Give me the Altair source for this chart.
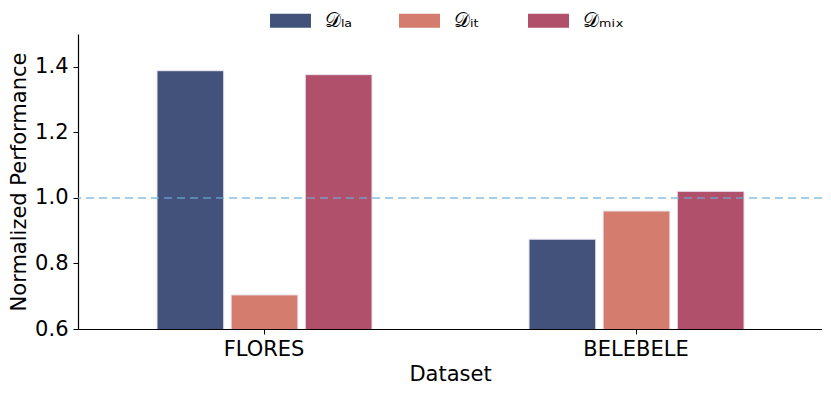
import altair as alt
import pandas as pd

datasets = ["FLORES", "BELEBELE"]
series = ["𝒟ₗₐ", "𝒟ᵢₜ", "𝒟ₘᵢₓ"]
values_la = [1.388, 0.874]
values_it = [0.704, 0.960]
values_mix = [1.376, 1.020]
colors = ["#43527A", "#D47C6D", "#B0506B"]
baseline = [1.0]

rows = []
for s, vals in zip(series, [values_la, values_it, values_mix]):
    for d, v in zip(datasets, vals):
        rows.append({"Dataset": d, "Series": s, "Value": v})
df = pd.DataFrame(rows)
base_df = pd.DataFrame({"y": baseline})

FONT = "DejaVu Sans"
FS = 21

bars = alt.Chart(df).mark_bar(stroke="#e8e4f0", strokeWidth=1, clip=True).encode(
    x=alt.X("Dataset:N", sort=datasets,
            scale=alt.Scale(paddingInner=0, paddingOuter=0),
            axis=alt.Axis(title="Dataset", labelAngle=0, labelFontSize=FS,
                          titleFontSize=FS, labelColor="black", titleColor="black",
                          domainColor="black", tickColor="black", tickSize=5,
                          labelPadding=4, titlePadding=4, titleFontWeight="normal",
                          labelFont=FONT, titleFont=FONT)),
    xOffset=alt.XOffset("Series:N", sort=series,
                        scale=alt.Scale(range=[79, 294], paddingInner=0.1, paddingOuter=0)),
    y=alt.Y("Value:Q", scale=alt.Scale(domain=[0.6, 1.5], nice=False, zero=False),
            axis=alt.Axis(title="Normalized Performance", values=[0.6, 0.8, 1.0, 1.2, 1.4],
                          format=".1f", grid=False, labelFontSize=FS, titleFontSize=FS,
                          labelColor="black", titleColor="black", domainColor="black",
                          tickColor="black", tickSize=5, labelPadding=5, titlePadding=5,
                          titleFontWeight="normal", labelFont=FONT, titleFont=FONT)),
    color=alt.Color("Series:N", sort=series,
                    scale=alt.Scale(domain=series, range=colors),
                    legend=alt.Legend(title=None, orient="none", direction="horizontal",
                                      legendX=192, legendY=-34,
                                      symbolType="M-1,-0.34H1V0.34H-1Z", symbolSize=1681,
                                      symbolStrokeWidth=0, symbolOpacity=1,
                                      labelFontSize=20, labelFont=FONT, labelColor="black",
                                      labelOffset=14, columnPadding=33, gridAlign="all",
                                      padding=0)),
)

rule = alt.Chart(base_df).mark_rule(color="#6baed6", opacity=0.6, strokeDash=[8, 5],
                                    strokeWidth=2).encode(y="y:Q")

chart = alt.layer(bars, rule).properties(
    width=744, height=295,
    autosize=alt.AutoSizeParams(type="none"),
    padding={"left": 70, "top": 26, "right": 0, "bottom": 56},
).configure_view(stroke=None).configure_axis(domainWidth=1.2)

chart.save("out.html", embed_options={"renderer": "svg", "actions": False})
